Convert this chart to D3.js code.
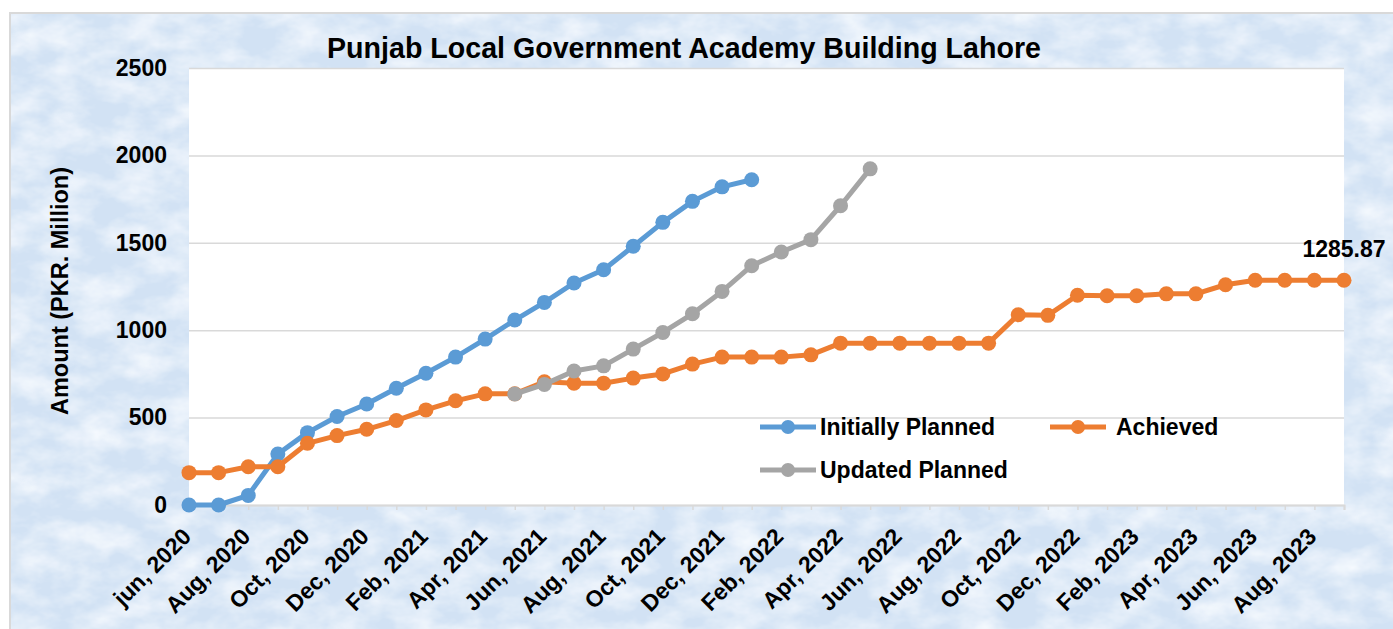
<!DOCTYPE html>
<html>
<head>
<meta charset="utf-8">
<script src="https://cdn.jsdelivr.net/npm/d3@7"></script>
<style>
  html, body { margin: 0; padding: 0; background: #ffffff; }
  svg { display: block; }
  text { font-family: "Liberation Sans", Arial, sans-serif; font-weight: bold; fill: #000; }
</style>
</head>
<body>
<svg id="chart" width="1393" height="629"></svg>
<script>
// ---------- data ----------
const months = [
  "jun, 2020","Jul, 2020","Aug, 2020","Sep, 2020","Oct, 2020","Nov, 2020","Dec, 2020",
  "Jan, 2021","Feb, 2021","Mar, 2021","Apr, 2021","May, 2021","Jun, 2021","Jul, 2021",
  "Aug, 2021","Sep, 2021","Oct, 2021","Nov, 2021","Dec, 2021","Jan, 2022","Feb, 2022",
  "Mar, 2022","Apr, 2022","May, 2022","Jun, 2022","Jul, 2022","Aug, 2022","Sep, 2022",
  "Oct, 2022","Nov, 2022","Dec, 2022","Jan, 2023","Feb, 2023","Mar, 2023","Apr, 2023",
  "May, 2023","Jun, 2023","Jul, 2023","Aug, 2023","Sep, 2023"
];
// Initially Planned: Jun 2020 .. Jan 2022
const initiallyPlanned = [0, 0, 55, 292, 414, 506, 578, 668, 754, 846, 949, 1058,
  1159, 1270, 1346, 1480, 1617, 1737, 1820, 1861];
// Updated Planned: May 2021 .. May 2022
const updatedStart = "May, 2021";
const updatedPlanned = [635, 690, 767, 796, 892, 987, 1094, 1222, 1369, 1447, 1518, 1712, 1923];
// Achieved: Jun 2020 .. Sep 2023
const achieved = [185, 185, 219, 219, 353, 397, 433, 483, 544, 596, 636, 636, 705, 697,
  697, 726, 750, 806, 846, 846, 846, 859, 926, 926, 926, 926, 926, 926, 1088, 1085,
  1200, 1197, 1197, 1208, 1208, 1260, 1285.87, 1285.87, 1285.87, 1285.87];
const yTicks = [0, 500, 1000, 1500, 2000, 2500];
const seriesNames = ["Initially Planned", "Achieved", "Updated Planned"];
const seriesColors = ["#5b9bd5", "#ed7d31", "#a5a5a5"];
const titleText = "Punjab Local Government Academy Building Lahore";
const yTitle = "Amount (PKR. Million)";
const lastLabel = "1285.87";

// ---------- layout ----------
const svg = d3.select("#chart");
const L = 189, R = 1344, T = 68, B = 505;

const defs = svg.append("defs");
const f = defs.append("filter").attr("id", "tex")
  .attr("x", 0).attr("y", 0).attr("width", 1).attr("height", 1)
  .attr("filterUnits", "objectBoundingBox");
f.append("feTurbulence").attr("type", "fractalNoise")
  .attr("baseFrequency", "0.025 0.04").attr("numOctaves", 4).attr("seed", 11).attr("result", "n");
f.append("feColorMatrix").attr("in", "n").attr("type", "matrix")
  .attr("values", "0 0 0 0 0.94  0 0 0 0 0.97  0 0 0 0 1  1.5 0 0 0 -0.5").attr("result", "w");
f.append("feFlood").attr("flood-color", "#d2e2f4").attr("result", "base");
f.append("feComposite").attr("in", "w").attr("in2", "base").attr("operator", "over");

// chart area background
svg.append("rect").attr("x", 10).attr("y", 13).attr("width", 1393 - 10).attr("height", 629 - 13)
  .attr("fill", "#d8e6f6").attr("filter", "url(#tex)");
svg.append("rect").attr("x", 10).attr("y", 13).attr("width", 1393).attr("height", 629)
  .attr("fill", "none").attr("stroke", "#d9d9d9").attr("stroke-width", 2);

// plot area
svg.append("rect").attr("x", L).attr("y", T).attr("width", R - L).attr("height", B - T).attr("fill", "#ffffff");

const x = d3.scalePoint().domain(months).range([L, R]).padding(0);
const y = d3.scaleLinear().domain([0, 2500]).range([B, T]);

// gridlines
const grid = svg.append("g").attr("transform", `translate(${L},0)`)
  .call(d3.axisLeft(y).tickValues(yTicks).tickSize(-(R - L)).tickFormat(""));
grid.select(".domain").remove();
grid.selectAll(".tick line").attr("stroke", "#d9d9d9").attr("stroke-width", 1.5);

// y axis labels
const ya = svg.append("g").attr("transform", `translate(${L},0)`)
  .call(d3.axisLeft(y).tickValues(yTicks).tickSize(0).tickPadding(22).tickFormat(d3.format("d")));
ya.select(".domain").remove();
ya.selectAll(".tick text").attr("font-size", 23).attr("font-weight", "bold")
  .attr("font-family", '"Liberation Sans", Arial, sans-serif').attr("fill", "#000");

// x axis
const xa = svg.append("g").attr("transform", `translate(0,${B})`)
  .call(d3.axisBottom(x).tickSize(5).tickSizeOuter(5)
    .tickFormat((d, i) => (i % 2 === 0 ? d : "")));
xa.select(".domain").attr("stroke", "#d9d9d9").attr("stroke-width", 2);
xa.selectAll(".tick line").attr("stroke", "#d9d9d9").attr("stroke-width", 1.5);
xa.selectAll(".tick text")
  .attr("font-size", 23).attr("font-weight", "bold")
  .attr("font-family", '"Liberation Sans", Arial, sans-serif').attr("fill", "#000")
  .attr("x", 0).attr("y", 0).attr("dy", 0)
  .attr("text-anchor", "end")
  .attr("transform", "translate(3,33) rotate(-45)");

// series
const mk = (vals, start) => vals.map((v, i) => ({ m: months[months.indexOf(start) + i], v }));
const series = [
  { name: seriesNames[0], color: seriesColors[0], pts: mk(initiallyPlanned, months[0]) },
  { name: seriesNames[1], color: seriesColors[1], pts: mk(achieved, months[0]) },
  { name: seriesNames[2], color: seriesColors[2], pts: mk(updatedPlanned, updatedStart) }
];
const line = d3.line().x(d => x(d.m)).y(d => y(d.v));
series.forEach(s => {
  const g = svg.append("g");
  g.append("path").datum(s.pts).attr("d", line).attr("fill", "none")
    .attr("stroke", s.color).attr("stroke-width", 5).attr("stroke-linejoin", "round");
  g.selectAll("circle").data(s.pts).join("circle")
    .attr("cx", d => x(d.m)).attr("cy", d => y(d.v)).attr("r", 7.5).attr("fill", s.color);
});

// data label on last achieved point
const lastPt = series[1].pts[series[1].pts.length - 1];
svg.append("text").attr("x", x(lastPt.m)).attr("y", y(lastPt.v) - 23)
  .attr("text-anchor", "middle").attr("font-size", 23).text(lastLabel);

// title
svg.append("text").attr("x", 684).attr("y", 58).attr("text-anchor", "middle")
  .attr("font-size", 28.6).text(titleText);

// y axis title
svg.append("text").attr("transform", "translate(68,291) rotate(-90)")
  .attr("text-anchor", "middle").attr("font-size", 23.5).text(yTitle);

// legend
const legendPos = [
  { lx: 760, ly: 427 },
  { lx: 1050, ly: 427 },
  { lx: 760, ly: 470 }
];
series.forEach((s, i) => {
  const p = legendPos[i];
  const g = svg.append("g").attr("transform", `translate(${p.lx},${p.ly})`);
  g.append("line").attr("x1", 0).attr("x2", 56).attr("y1", 0).attr("y2", 0)
    .attr("stroke", s.color).attr("stroke-width", 5);
  g.append("circle").attr("cx", 28).attr("cy", 0).attr("r", 7).attr("fill", s.color);
  g.append("text").attr("x", i === 1 ? 66 : 60).attr("y", 0).attr("dy", "0.35em")
    .attr("font-size", 23).text(s.name);
});
</script>
</body>
</html>
